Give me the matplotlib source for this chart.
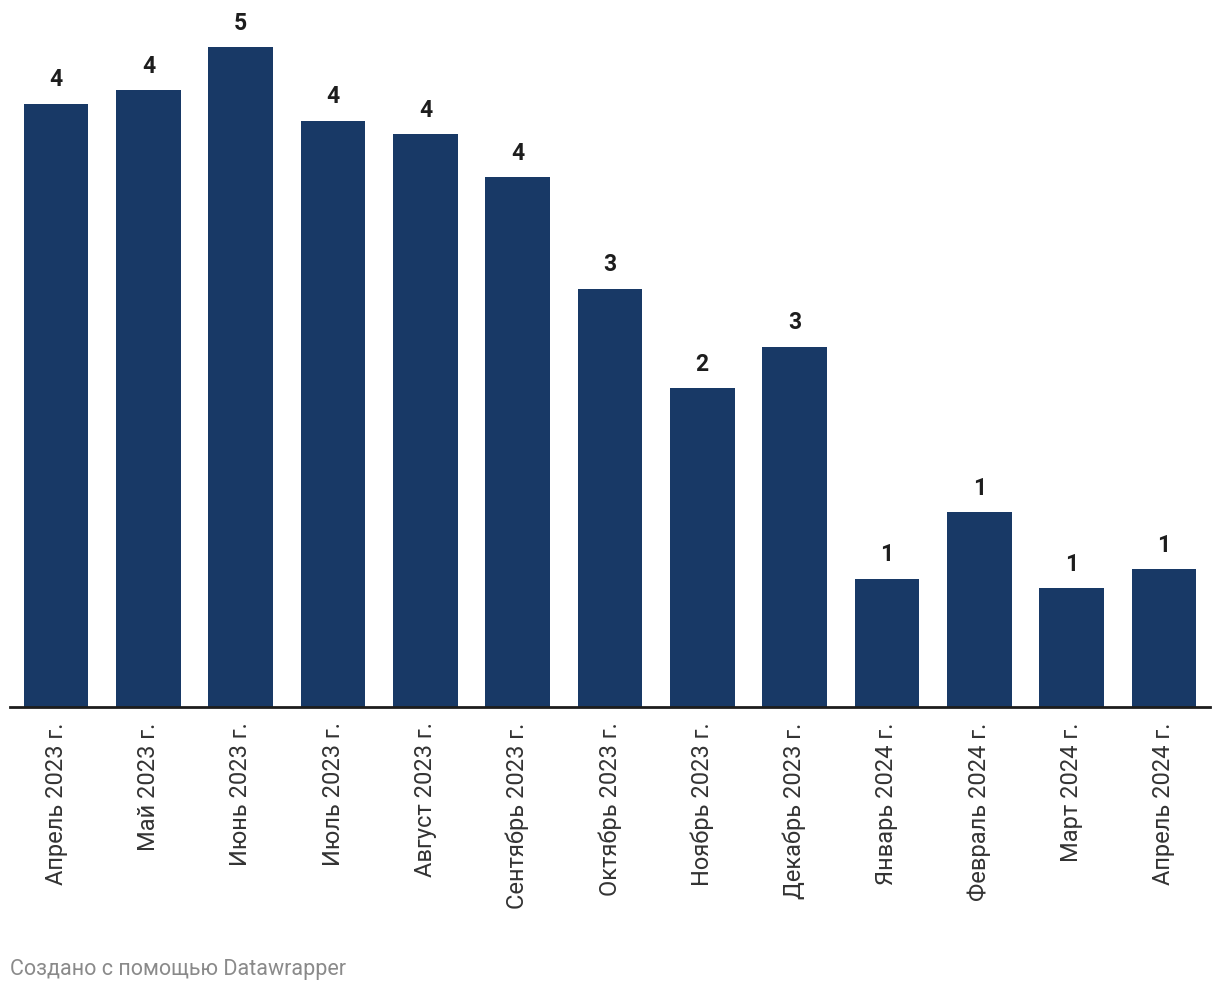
import matplotlib.pyplot as plt

plt.rcParams['font.family'] = ['Roboto', 'DejaVu Sans']

months = ["Апрель 2023 г.", "Май 2023 г.", "Июнь 2023 г.", "Июль 2023 г.",
          "Август 2023 г.", "Сентябрь 2023 г.", "Октябрь 2023 г.", "Ноябрь 2023 г.",
          "Декабрь 2023 г.", "Январь 2024 г.", "Февраль 2024 г.", "Март 2024 г.",
          "Апрель 2024 г."]
values = [4.37, 4.47, 4.78, 4.25, 4.15, 3.84, 3.03, 2.31, 2.61, 0.93, 1.41, 0.86, 1.0]

W, H = 1220, 994
fig = plt.figure(figsize=(W / 100, H / 100), dpi=100)
ax = fig.add_axes([10 / W, 1 - 707 / H, 1200 / W, 697 / H])

x = range(len(months))
ax.bar(x, values, width=0.70, color="#183966", zorder=2)
for i, v in zip(x, values):
    ax.annotate(f"{v:.0f}", (i, v), xytext=(0, 9), textcoords="offset points",
                ha="center", va="bottom", fontsize=16.5, fontweight="bold",
                color="#1d1d1d")

ax.set_xlim(-0.5, len(months) - 0.5)
ax.set_ylim(0, 697 / 138)
ax.set_yticks([])
ax.set_xticks(list(x))
ax.set_xticklabels(months, rotation=90, fontsize=17, color="#333333",
                   va="top", ha="center")
ax.tick_params(axis="x", length=0, pad=11)
for s in ["top", "right", "left"]:
    ax.spines[s].set_visible(False)
ax.spines["bottom"].set_linewidth(2)
ax.spines["bottom"].set_color("#1d1d1d")
ax.spines["bottom"].set_zorder(3)

fig.text(10 / W, 1 - 970 / H, "Создано с помощью Datawrapper", fontsize=15.5,
         color="#8a8a8a", ha="left", va="center")

fig.savefig("out.png", dpi=100)
